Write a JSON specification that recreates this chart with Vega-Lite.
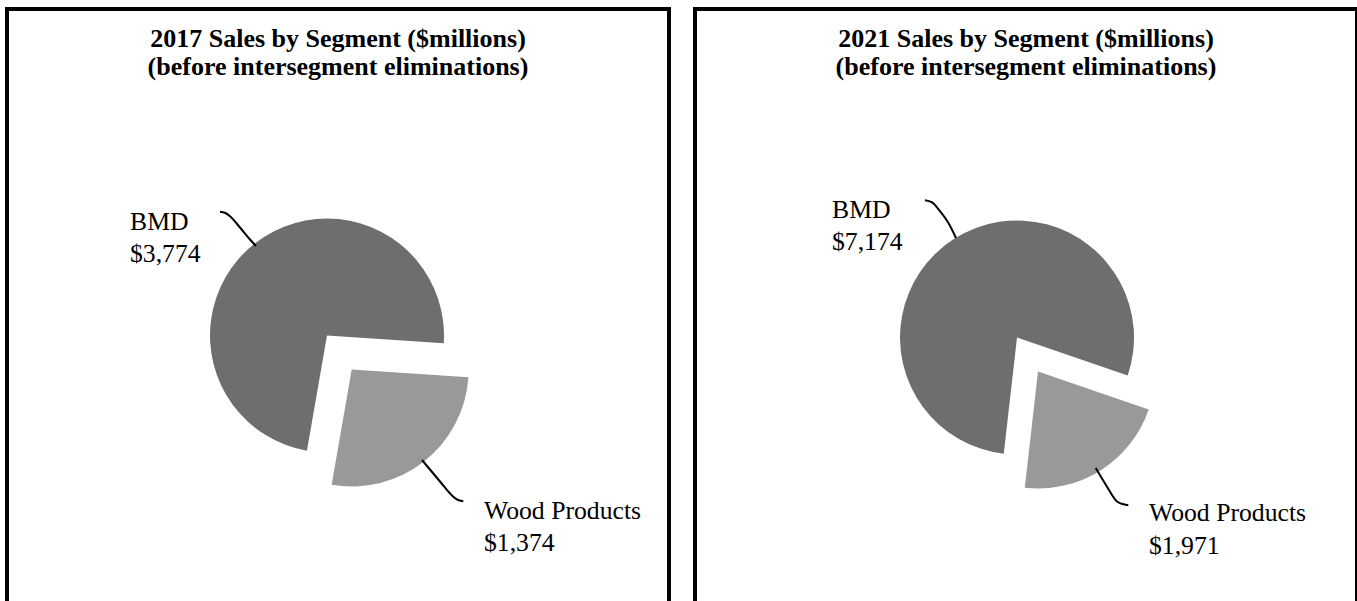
{
  "$schema": "https://vega.github.io/schema/vega-lite/v6.json",
  "padding": {"left": 5, "top": 7, "right": 0, "bottom": 0},
  "background": "white",
  "spacing": 22,
  "config": {
    "view": {"stroke": "black", "strokeWidth": 4},
    "font": "Liberation Serif",
    "title": {"font": "Liberation Serif", "fontSize": 26, "fontWeight": "bold", "color": "black", "anchor": "middle", "lineHeight": 28, "offset": -71}
  },
  "resolve": {"scale": {"theta": "independent", "x": "independent", "y": "independent", "color": "independent"}},
  "hconcat": [
    {
      "width": 662,
      "height": 656,
      "title": {"text": ["2017 Sales by Segment ($millions)", "(before intersegment eliminations)"]},
      "layer": [
        {
          "data": {"values": [{"segment": "BMD", "sales": 3774}, {"segment": "Wood Products", "sales": 1374}]},
          "mark": {"type": "arc", "outerRadius": 117},
          "encoding": {
            "theta": {"field": "sales", "type": "quantitative", "stack": true, "scale": {"range": [3.314, 9.597]}},
            "order": {"field": "segment", "sort": "ascending"},
            "color": {"field": "segment", "type": "nominal", "scale": {"domain": ["BMD", "Wood Products"], "range": ["#6e6e6e", "#999999"]}, "legend": null},
            "x": {"datum": 320, "type": "quantitative", "scale": {"domain": [0, 662], "nice": false, "zero": false}, "axis": null},
            "y": {"datum": 326.5, "type": "quantitative", "scale": {"domain": [0, 656], "nice": false, "zero": false, "reverse": true}, "axis": null},
            "opacity": {"condition": {"test": "datum.segment === 'BMD'", "value": 1}, "value": 0}
          }
        },
        {
          "data": {"values": [{"segment": "BMD", "sales": 3774}, {"segment": "Wood Products", "sales": 1374}]},
          "mark": {"type": "arc", "outerRadius": 117},
          "encoding": {
            "theta": {"field": "sales", "type": "quantitative", "stack": true, "scale": {"range": [3.314, 9.597]}},
            "order": {"field": "segment", "sort": "ascending"},
            "color": {"field": "segment", "type": "nominal", "scale": {"domain": ["BMD", "Wood Products"], "range": ["#6e6e6e", "#999999"]}, "legend": null},
            "x": {"datum": 344.7, "type": "quantitative", "scale": {"domain": [0, 662], "nice": false, "zero": false}, "axis": null},
            "y": {"datum": 360.5, "type": "quantitative", "scale": {"domain": [0, 656], "nice": false, "zero": false, "reverse": true}, "axis": null},
            "opacity": {"condition": {"test": "datum.segment === 'Wood Products'", "value": 1}, "value": 0}
          }
        },
        {
          "data": {"values": [
            {"id": "BMD", "x": 213, "y": 202.8}, {"id": "BMD", "x": 218, "y": 203.8}, {"id": "BMD", "x": 223, "y": 207.2}, {"id": "BMD", "x": 233, "y": 218.5}, {"id": "BMD", "x": 243, "y": 230.5}, {"id": "BMD", "x": 249, "y": 237},
            {"id": "Wood", "x": 415, "y": 451}, {"id": "Wood", "x": 433, "y": 472.5}, {"id": "Wood", "x": 445, "y": 486.5}, {"id": "Wood", "x": 450, "y": 490.5}, {"id": "Wood", "x": 456.3, "y": 492.2}
          ]},
          "mark": {"type": "line", "color": "black", "strokeWidth": 2, "interpolate": "monotone"},
          "encoding": {
            "x": {"field": "x", "type": "quantitative", "scale": {"domain": [0, 662], "nice": false, "zero": false}, "axis": null},
            "y": {"field": "y", "type": "quantitative", "scale": {"domain": [0, 656], "nice": false, "zero": false, "reverse": true}, "axis": null},
            "detail": {"field": "id"}
          }
        },
        {
          "data": {"values": [
            {"label": "BMD\n$3,774", "x": 123, "y": 220.5},
            {"label": "Wood Products\n$1,374", "x": 477, "y": 509.8}
          ]},
          "mark": {"type": "text", "align": "left", "baseline": "alphabetic", "fontSize": 25.7, "lineHeight": 32.4, "lineBreak": "\n", "color": "black", "font": "Liberation Serif"},
          "encoding": {
            "x": {"field": "x", "type": "quantitative", "scale": {"domain": [0, 662], "nice": false, "zero": false}, "axis": null},
            "y": {"field": "y", "type": "quantitative", "scale": {"domain": [0, 656], "nice": false, "zero": false, "reverse": true}, "axis": null},
            "text": {"field": "label"}
          }
        }
      ]
    },
    {
      "width": 662,
      "height": 656,
      "title": {"text": ["2021 Sales by Segment ($millions)", "(before intersegment eliminations)"]},
      "layer": [
        {
          "data": {"values": [{"segment": "BMD", "sales": 7174}, {"segment": "Wood Products", "sales": 1971}]},
          "mark": {"type": "arc", "outerRadius": 117},
          "encoding": {
            "theta": {"field": "sales", "type": "quantitative", "stack": true, "scale": {"range": [3.255, 9.538]}},
            "order": {"field": "segment", "sort": "ascending"},
            "color": {"field": "segment", "type": "nominal", "scale": {"domain": ["BMD", "Wood Products"], "range": ["#6e6e6e", "#999999"]}, "legend": null},
            "x": {"datum": 322, "type": "quantitative", "scale": {"domain": [0, 662], "nice": false, "zero": false}, "axis": null},
            "y": {"datum": 328.5, "type": "quantitative", "scale": {"domain": [0, 656], "nice": false, "zero": false, "reverse": true}, "axis": null},
            "opacity": {"condition": {"test": "datum.segment === 'BMD'", "value": 1}, "value": 0}
          }
        },
        {
          "data": {"values": [{"segment": "BMD", "sales": 7174}, {"segment": "Wood Products", "sales": 1971}]},
          "mark": {"type": "arc", "outerRadius": 117},
          "encoding": {
            "theta": {"field": "sales", "type": "quantitative", "stack": true, "scale": {"range": [3.255, 9.538]}},
            "order": {"field": "segment", "sort": "ascending"},
            "color": {"field": "segment", "type": "nominal", "scale": {"domain": ["BMD", "Wood Products"], "range": ["#6e6e6e", "#999999"]}, "legend": null},
            "x": {"datum": 343, "type": "quantitative", "scale": {"domain": [0, 662], "nice": false, "zero": false}, "axis": null},
            "y": {"datum": 362.5, "type": "quantitative", "scale": {"domain": [0, 656], "nice": false, "zero": false, "reverse": true}, "axis": null},
            "opacity": {"condition": {"test": "datum.segment === 'Wood Products'", "value": 1}, "value": 0}
          }
        },
        {
          "data": {"values": [
            {"id": "BMD", "x": 230, "y": 191.2}, {"id": "BMD", "x": 236.7, "y": 193.2}, {"id": "BMD", "x": 245, "y": 202.2}, {"id": "BMD", "x": 253.3, "y": 213.8}, {"id": "BMD", "x": 261, "y": 229},
            {"id": "Wood", "x": 400.7, "y": 459}, {"id": "Wood", "x": 411.7, "y": 477.2}, {"id": "Wood", "x": 421.7, "y": 492.2}, {"id": "Wood", "x": 426.7, "y": 494.8}, {"id": "Wood", "x": 433.3, "y": 496.2}
          ]},
          "mark": {"type": "line", "color": "black", "strokeWidth": 2, "interpolate": "monotone"},
          "encoding": {
            "x": {"field": "x", "type": "quantitative", "scale": {"domain": [0, 662], "nice": false, "zero": false}, "axis": null},
            "y": {"field": "y", "type": "quantitative", "scale": {"domain": [0, 656], "nice": false, "zero": false, "reverse": true}, "axis": null},
            "detail": {"field": "id"}
          }
        },
        {
          "data": {"values": [
            {"label": "BMD\n$7,174", "x": 137, "y": 208.8},
            {"label": "Wood Products\n$1,971", "x": 454, "y": 512.2}
          ]},
          "mark": {"type": "text", "align": "left", "baseline": "alphabetic", "fontSize": 25.7, "lineHeight": 32.4, "lineBreak": "\n", "color": "black", "font": "Liberation Serif"},
          "encoding": {
            "x": {"field": "x", "type": "quantitative", "scale": {"domain": [0, 662], "nice": false, "zero": false}, "axis": null},
            "y": {"field": "y", "type": "quantitative", "scale": {"domain": [0, 656], "nice": false, "zero": false, "reverse": true}, "axis": null},
            "text": {"field": "label"}
          }
        }
      ]
    }
  ]
}
